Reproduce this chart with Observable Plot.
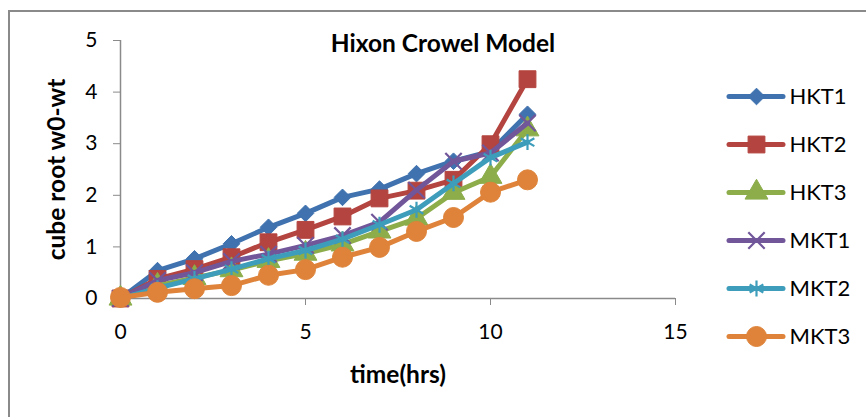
<!DOCTYPE html>
<html>
<head>
<meta charset="utf-8">
<script src="https://cdn.jsdelivr.net/npm/d3@7"></script>
<script src="https://cdn.jsdelivr.net/npm/@observablehq/plot@0.6"></script>
<style>
  html, body { margin: 0; padding: 0; background: #fff; }
  #wrap { position: relative; width: 866px; height: 417px; overflow: hidden; font-family: Lato, "Liberation Sans", sans-serif; }
  #frame { position: absolute; left: 8px; top: 10px; width: 900px; height: 500px; border-left: 2px solid #8a8a8a; border-top: 2px solid #8a8a8a; }
  #title { position: absolute; left: 443px; top: 31px; transform: translateX(-50%); font-weight: bold; font-size: 24.5px; line-height: 1; white-space: nowrap; color: #000; }
  #main, #legend { position: absolute; top: 0; left: 0; }
  #legend { left: 722px; top: 70px; }
</style>
</head>
<body>
<div id="wrap">
  <div id="frame"></div>
  <div id="main"></div>
  <div id="legend"></div>
  <div id="title">Hixon Crowel Model</div>
</div>
<script>
// time (hrs)
const times = [0, 1, 2, 3, 4, 5, 6, 7, 8, 9, 10, 11];
// cube root w0-wt
const hkt1 = [0, 0.54, 0.77, 1.06, 1.38, 1.65, 1.96, 2.12, 2.42, 2.66, 2.85, 3.57];
const hkt2 = [0, 0.38, 0.57, 0.80, 1.09, 1.33, 1.59, 1.94, 2.09, 2.30, 2.99, 4.25];
const hkt3 = [0, 0.25, 0.40, 0.55, 0.73, 0.87, 1.05, 1.30, 1.55, 2.05, 2.36, 3.28];
const mkt1 = [0, 0.35, 0.50, 0.72, 0.86, 1.03, 1.22, 1.48, 2.10, 2.66, 2.82, 3.40];
const mkt2 = [0, 0.20, 0.38, 0.57, 0.77, 0.93, 1.15, 1.43, 1.72, 2.23, 2.73, 3.03];
const mkt3 = [0.02, 0.12, 0.19, 0.25, 0.45, 0.56, 0.80, 0.99, 1.30, 1.57, 2.06, 2.30];

const seriesNames = ["HKT1", "HKT2", "HKT3", "MKT1", "MKT2", "MKT3"];
const seriesValues = [hkt1, hkt2, hkt3, mkt1, mkt2, mkt3];
const seriesColors = ["#3f72ae", "#b4443f", "#8cad4a", "#71569a", "#3d9dba", "#de8339"];
const seriesSymbols = ["diamond2", "square", "triangle", "times", "asterisk", "circle"];
const symbolSizes = [7.5, 9.5, 8.5, 7.5, 7.5, 10];
const filledSymbol = [true, true, true, false, false, true];

const xTicks = [0, 5, 10, 15];
const yTicks = [0, 1, 2, 3, 4, 5];
const axisGray = "#8a8a8a";

const rows = seriesNames.map((name, i) => times.map((t, j) => ({series: name, time: t, value: seriesValues[i][j]})));

const seriesMarks = [];
rows.forEach((data, i) => {
  seriesMarks.push(Plot.line(data, {x: "time", y: "value", stroke: seriesColors[i], strokeWidth: 5, strokeLinejoin: "round", strokeLinecap: "round"}));
  seriesMarks.push(Plot.dot(data, {
    x: "time", y: "value", symbol: () => seriesSymbols[i], r: symbolSizes[i],
    fill: filledSymbol[i] ? seriesColors[i] : "none",
    stroke: seriesColors[i], strokeWidth: filledSymbol[i] ? 1 : 2.2
  }));
});

const main = Plot.plot({
  width: 866, height: 417,
  marginLeft: 120, marginRight: 191, marginTop: 40, marginBottom: 119,
  style: {fontFamily: "Lato, 'Liberation Sans', sans-serif", fontSize: "21px", background: "transparent", color: "#000"},
  x: {domain: [0, 15]},
  y: {domain: [0, 5]},
  symbol: {type: "identity"},
  marks: [
    Plot.ruleX([0], {stroke: axisGray, strokeWidth: 1.5}),
    Plot.ruleY([0], {stroke: axisGray, strokeWidth: 1.5}),
    Plot.axisY({ticks: yTicks, tickFormat: d3.format("d"), tickSize: 7, tickPadding: 16, stroke: axisGray, fill: "#000", label: null}),
    Plot.axisX({ticks: xTicks, tickFormat: d3.format("d"), tickSize: 7, tickPadding: 19, stroke: axisGray, fill: "#000", label: null}),
    Plot.text(["cube root w0-wt"], {frameAnchor: "left", textAnchor: "middle", dx: -63, rotate: -90, fontWeight: "bold", fontSize: 24.5, fill: "#000"}),
    Plot.text(["time(hrs)"], {frameAnchor: "bottom", dy: 84, fontWeight: "bold", fontSize: 24.5, fill: "#000"}),
    ...seriesMarks
  ]
});
document.getElementById("main").appendChild(main);

const legendRows = seriesNames.map((name, i) => ({name, color: seriesColors[i], symbol: seriesSymbols[i]}));
const legendMarks = [];
legendRows.forEach((d, i) => {
  legendMarks.push(Plot.ruleY([d], {y: "name", x1: 0, x2: 1, stroke: d.color, strokeWidth: 5, strokeLinecap: "round"}));
  legendMarks.push(Plot.dot([d], {x: 0.5, y: "name", symbol: () => d.symbol, r: symbolSizes[i],
    fill: filledSymbol[i] ? d.color : "none", stroke: d.color, strokeWidth: filledSymbol[i] ? 1 : 2.2}));
});
const legend = Plot.plot({
  width: 144, height: 300,
  margin: 0,
  style: {fontFamily: "Lato, 'Liberation Sans', sans-serif", fontSize: "22px", background: "transparent", color: "#000"},
  x: {domain: [0, 1], range: [7, 61], axis: null},
  y: {type: "point", domain: seriesNames, range: [25, 266], padding: 0, axis: null},
  symbol: {type: "identity"},
  marks: [
    ...legendMarks,
    Plot.text(legendRows, {x: 1, y: "name", text: "name", dx: 6, textAnchor: "start", fill: "#000", fontSize: 22})
  ]
});
document.getElementById("legend").appendChild(legend);
</script>
</body>
</html>
